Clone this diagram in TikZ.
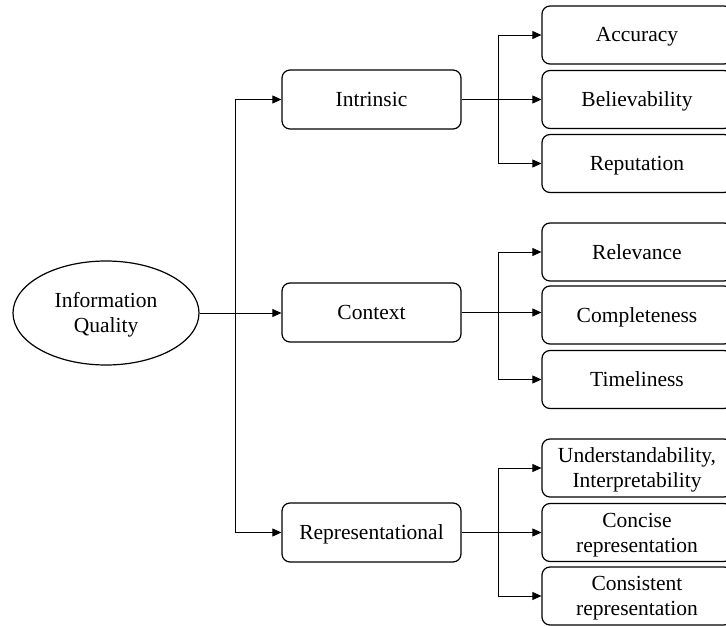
\documentclass[tikz,border=0pt]{standalone}
\usepackage{fontspec}
\setmainfont{Liberation Serif}
\newfontfamily\tnrfont{Liberation Serif}
\usetikzlibrary{arrows.meta,shapes.geometric}
\begin{document}
\begin{tikzpicture}[x=1pt,y=-1pt,
  every node/.style={font=\tnrfont\fontsize{21.5}{25}\selectfont, align=center, inner sep=0pt},
  one/.style={text height=14pt, text depth=0pt},
  two/.style={text height=39pt, text depth=0pt},
  mid/.style={draw, line width=1.2pt, rounded corners=8pt, minimum width=179pt, minimum height=59pt},
  leaf/.style={draw, line width=1.2pt, rounded corners=8pt, minimum width=190pt, minimum height=58pt},
  root/.style={draw, ellipse, line width=1.2pt, minimum width=186pt, minimum height=104pt},
  conn/.style={line width=0.8pt},
  arr/.style={conn, -{Triangle[length=9pt,width=8pt]}}]
\useasboundingbox (0,0) rectangle (726,626);
\clip (0,0) rectangle (726,626);
\node[root,two] (iq) at (106,313) {Information\\Quality};
\node[mid,one] (intr) at (371.5,99.5) {Intrinsic};
\node[mid,one] (ctx) at (371.5,312.5) {Context};
\node[mid,one] (rep) at (371.5,532.5) {Representational};
\node[leaf,one] (acc) at (637,35) {Accuracy};
\node[leaf,one] (bel) at (637,99.5) {Believability};
\node[leaf,one] (repu) at (637,163.5) {Reputation};
\node[leaf,one] (rel) at (637,252) {Relevance};
\node[leaf,one] (comp) at (637,315) {Completeness};
\node[leaf,one] (time) at (637,379.5) {Timeliness};
\node[leaf,two] (und) at (637,468) {Understandability,\\Interpretability};
\node[leaf,two] (conc) at (637,532.5) {Concise\\representation};
\node[leaf,two] (cons) at (637,596) {Consistent\\representation};
\coordinate (j0) at (235,313);
\coordinate (j1) at (498,99.5);
\coordinate (j2) at (498,312.5);
\coordinate (j3) at (498,532.5);
% root
\draw[arr] (iq.east) -- (iq.east -| ctx.west);
\draw[arr] (j0) |- (intr.west);
\draw[arr] (j0) |- (rep.west);
% intrinsic
\draw[arr] (intr.east) -- (bel.west);
\draw[arr] (j1) |- (acc.west);
\draw[arr] (j1) |- (repu.west);
% context
\draw[arr] (ctx.east) -- (ctx.east -| comp.west);
\draw[arr] (j2) |- (rel.west);
\draw[arr] (j2) |- (time.west);
% representational
\draw[arr] (rep.east) -- (conc.west);
\draw[arr] (j3) |- (und.west);
\draw[arr] (j3) |- (cons.west);
\end{tikzpicture}
\end{document}
